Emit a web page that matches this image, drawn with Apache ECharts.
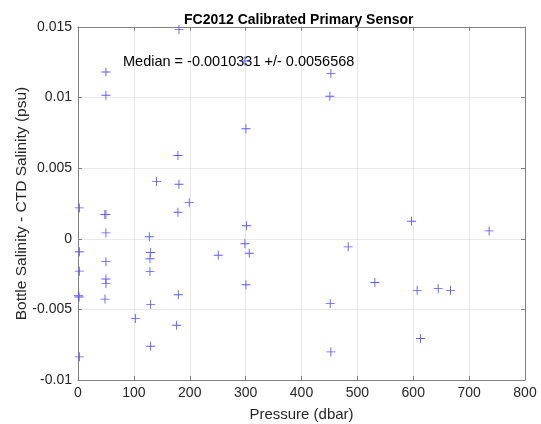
<!DOCTYPE html>
<html><head><meta charset="utf-8">
<script src="https://cdn.jsdelivr.net/npm/echarts@6/dist/echarts.min.js"></script>
<style>html,body{margin:0;padding:0;background:#fff}#c{width:541px;height:424px}</style>
</head><body><div id="c"></div>
<script>
var titleText = 'FC2012 Calibrated Primary Sensor';
var xName = 'Pressure (dbar)';
var yName = 'Bottle Salinity - CTD Salinity (psu)';
var medianText = 'Median = -0.0010331 +/- 0.0056568';
var xTicks = [0,100,200,300,400,500,600,700,800];
var yTicks = [-0.01,-0.005,0,0.005,0.01,0.015];
var pressure = [50,50,180.7,298.7,300.5,178.9,140.7,180.7,
  2.4,48,50,50,199,178.9,127.6,301.7,2.4,50,2.4,130,128.8,128.8,50,50,1,2,48.3,130,179.5,102.6,176.5,130,2.4,298.7,306.5,251,300.5,
  452.6,450.8,597,735.8,483.6,531.3,607,644.6,666.7,451.4,613,452.6];
var diff = [0.01181,0.01017,0.01483,0.01259,0.00779,0.00590,0.00405,0.00386,
  0.00219,0.00172,0.00172,0.00042,0.00256,0.00188,0.00014,0.00092,-0.00092,-0.00162,-0.00229,-0.00097,-0.00141,-0.00231,-0.00285,-0.00316,-0.00403,-0.00412,-0.00427,-0.00466,-0.00396,-0.00565,-0.00612,-0.00761,-0.00836,-0.00035,-0.00102,-0.00116,-0.00325,
  0.01170,0.01010,0.00124,0.00056,-0.00057,-0.00309,-0.00365,-0.00353,-0.00365,-0.00459,-0.00706,-0.00801];
var pts = pressure.map(function(p,i){return [p,diff[i]];});
var font = '"Liberation Sans", Arial, Helvetica, sans-serif';
var axisCol = '#808080';
var chart = echarts.init(document.getElementById('c'));
function fmtY(v){ var r = Math.round(v*1000)/1000; return String(r); }
chart.setOption({
  animation:false,
  title:{text:titleText,top:8,left:179,textStyle:{fontFamily:font,fontSize:14,fontWeight:'bold',color:'#000'}},
  grid:{left:78,right:16,top:27,bottom:44,show:false,containLabel:false,outerBoundsMode:'none'},
  xAxis:[{type:'value',min:0,max:800,interval:100,position:'bottom',
    name:xName,nameLocation:'middle',nameGap:27,nameMoveOverlap:false,nameTextStyle:{fontFamily:font,fontSize:15,color:'#262626'},
    axisLine:{show:true,onZero:false,lineStyle:{color:axisCol,width:1}},
    axisTick:{show:true,inside:true,length:4,lineStyle:{color:axisCol}},
    axisLabel:{fontFamily:font,fontSize:14,color:'#262626',margin:6},
    splitLine:{show:true,lineStyle:{color:'#e8e8e8',width:1}}},
   {type:'value',min:0,max:800,interval:100,position:'top',
    axisLine:{show:true,onZero:false,lineStyle:{color:axisCol,width:1}},
    axisTick:{show:true,inside:true,length:4,lineStyle:{color:axisCol}},
    axisLabel:{show:false},splitLine:{show:false}}],
  yAxis:[{type:'value',min:-0.01,max:0.015,interval:0.005,position:'left',
    name:yName,nameLocation:'middle',nameGap:48,nameMoveOverlap:false,nameRotate:90,nameTextStyle:{fontFamily:font,fontSize:15.5,color:'#262626'},
    axisLine:{show:true,onZero:false,lineStyle:{color:axisCol,width:1}},
    axisTick:{show:true,inside:true,length:4,lineStyle:{color:axisCol}},
    axisLabel:{fontFamily:font,fontSize:14,color:'#262626',margin:6,formatter:fmtY},
    splitLine:{show:true,lineStyle:{color:'#e8e8e8',width:1}}},
   {type:'value',min:-0.01,max:0.015,interval:0.005,position:'right',
    axisLine:{show:true,onZero:false,lineStyle:{color:axisCol,width:1}},
    axisTick:{show:true,inside:true,length:4,lineStyle:{color:axisCol}},
    axisLabel:{show:false},splitLine:{show:false}}],
  graphic:[{type:'text',left:123,top:54,style:{text:medianText,font:'14.5px '+font,fill:'#000'},z:1}],
  series:[{type:'scatter',xAxisIndex:0,yAxisIndex:0,data:pts,
    symbol:'path://M4.5,0h1v10h-1z M0,4.5h10v1h-10z',symbolSize:9,
    itemStyle:{color:'#5a5aff',opacity:1},z:5}]
});
</script></body></html>
